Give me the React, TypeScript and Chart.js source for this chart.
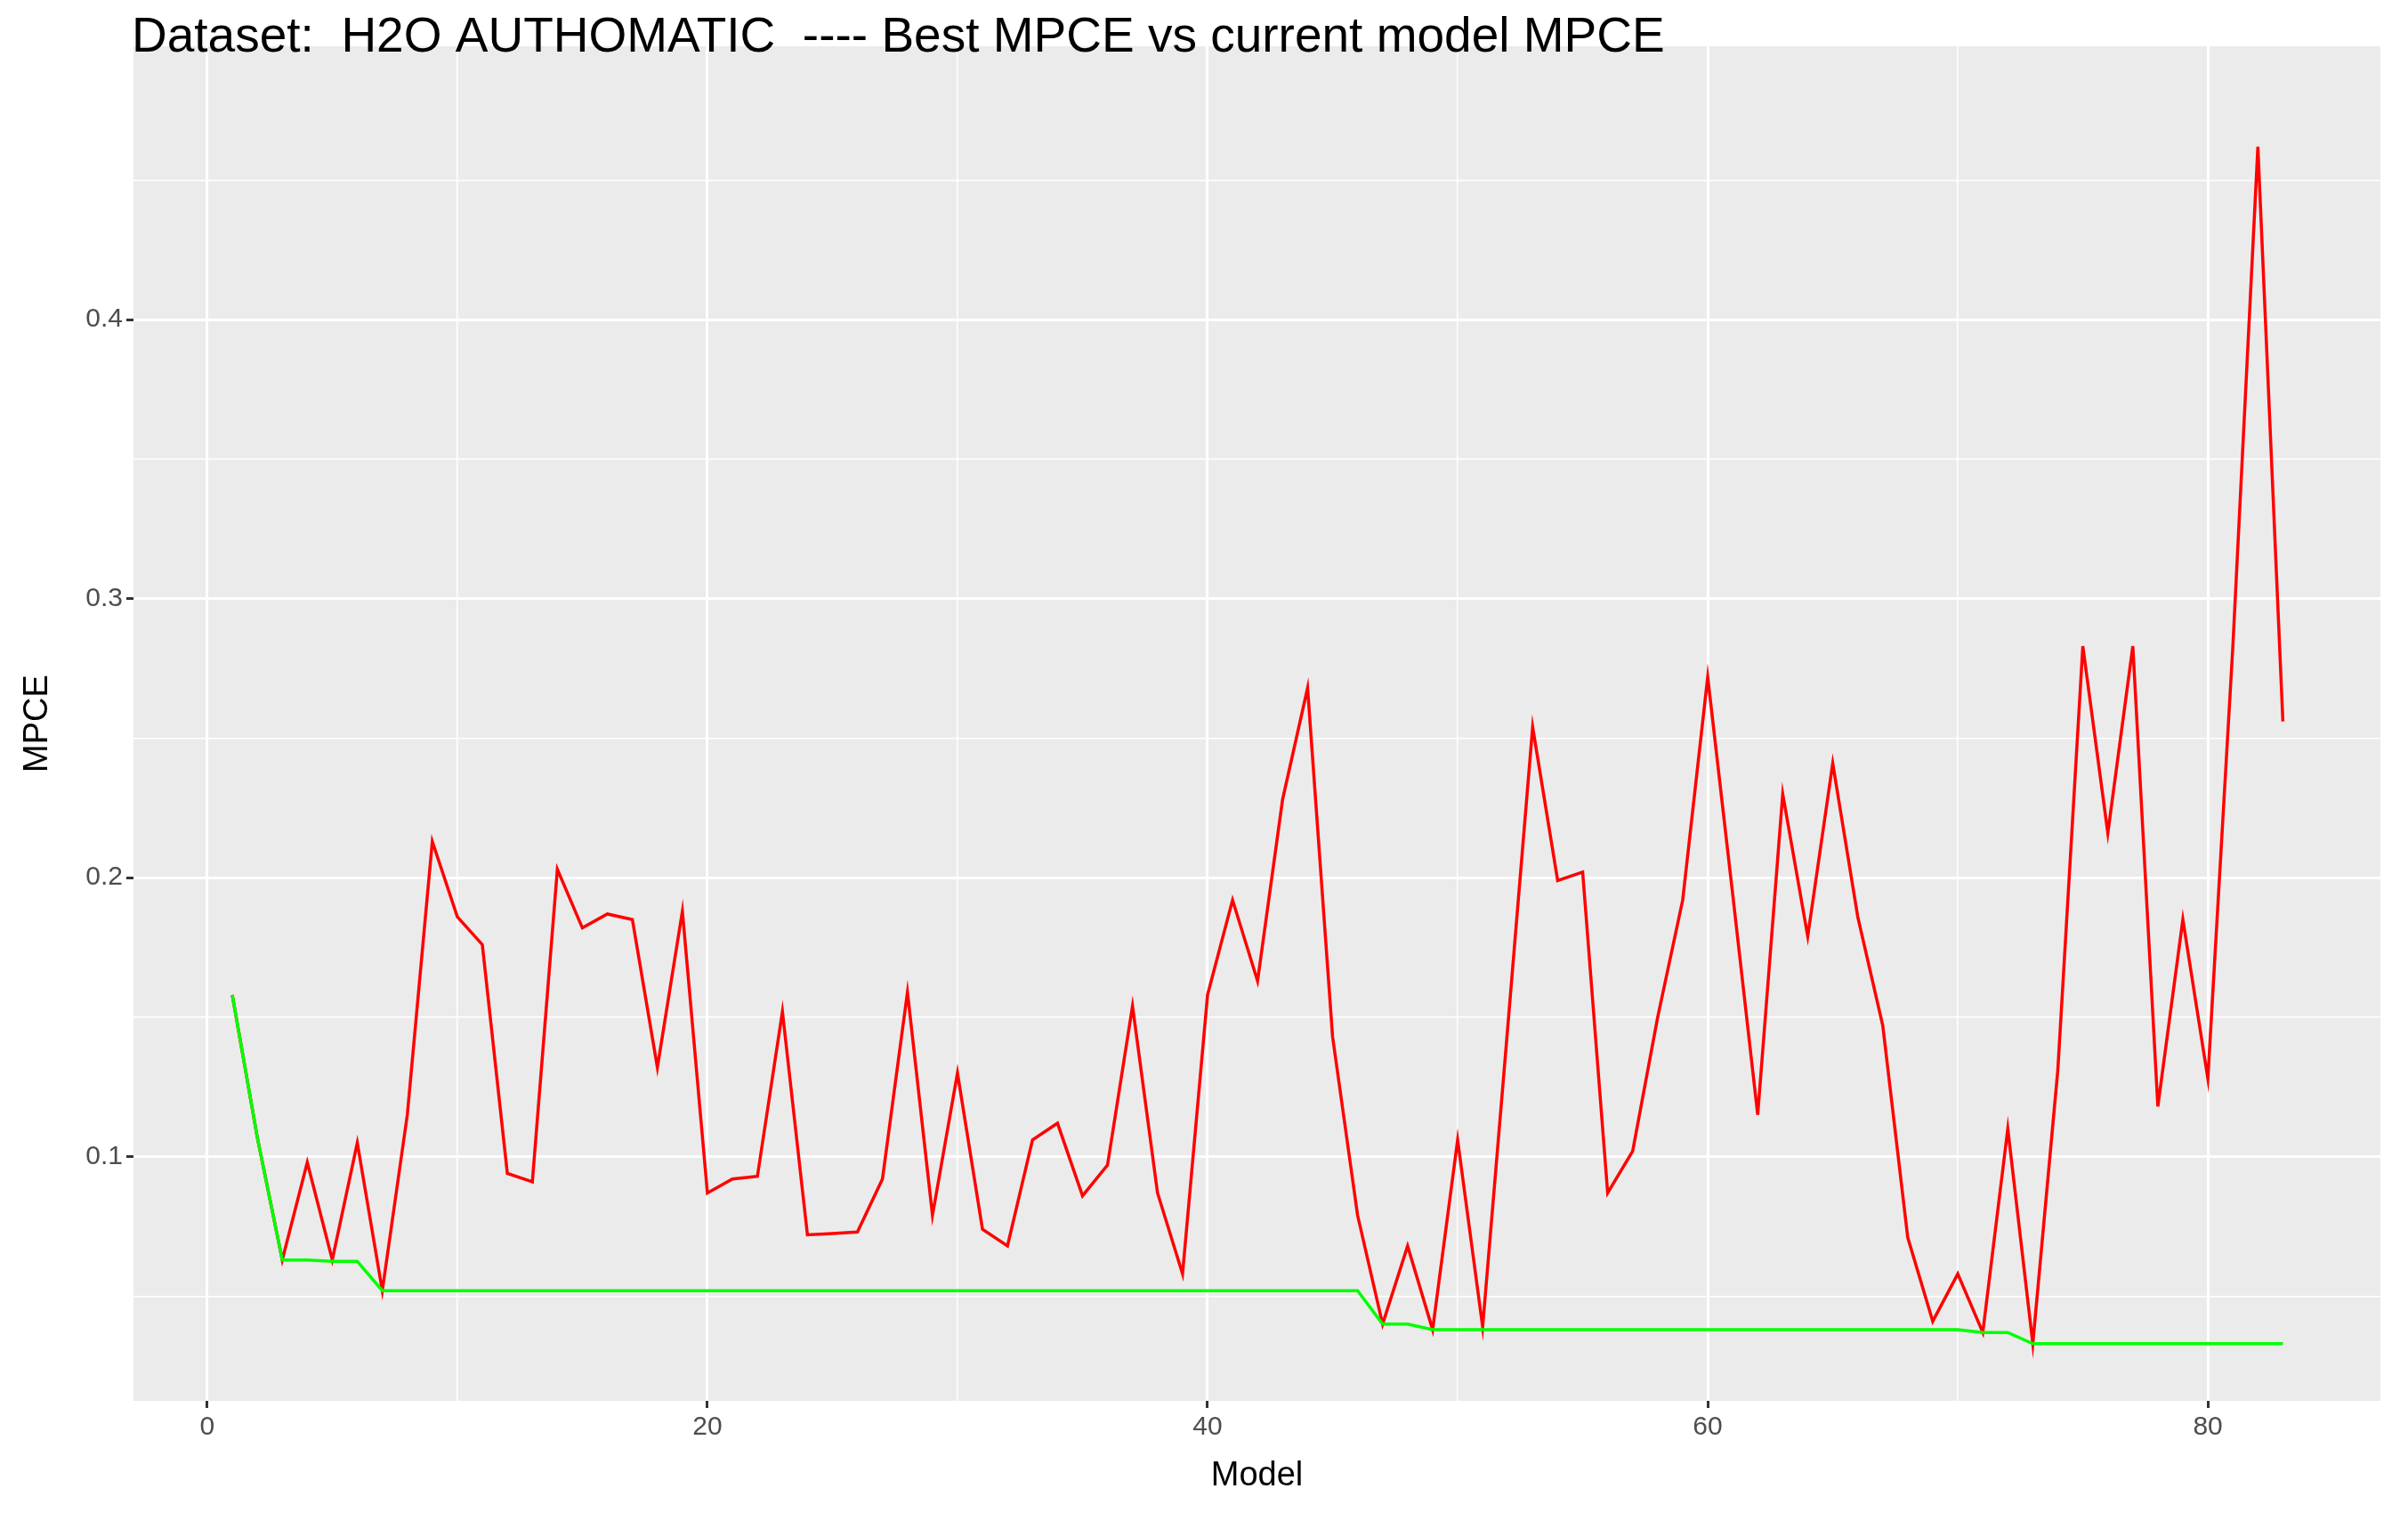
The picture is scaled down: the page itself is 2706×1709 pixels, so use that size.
import React, { useEffect, useRef } from "react";
import { Chart, registerables } from "chart.js";
Chart.register(...registerables);

const models = Array.from({ length: 83 }, (_, i) => i + 1);
const currentMPCE = [
  0.158, 0.107, 0.063, 0.098, 0.063, 0.105, 0.052, 0.115, 0.213, 0.186,
  0.176, 0.094, 0.091, 0.203, 0.182, 0.187, 0.185, 0.132, 0.188, 0.087,
  0.092, 0.093, 0.152, 0.072, 0.0725, 0.073, 0.092, 0.159, 0.079, 0.130,
  0.074, 0.068, 0.106, 0.112, 0.086, 0.097, 0.154, 0.087, 0.058, 0.158,
  0.192, 0.163, 0.228, 0.268, 0.143, 0.079, 0.040, 0.068, 0.038, 0.106,
  0.039, 0.146, 0.254, 0.199, 0.202, 0.087, 0.102, 0.150, 0.192, 0.272,
  0.194, 0.115, 0.230, 0.179, 0.241, 0.186, 0.147, 0.071, 0.041, 0.058,
  0.037, 0.110, 0.033, 0.131, 0.283, 0.216, 0.283, 0.118, 0.185, 0.128,
  0.283, 0.462, 0.256,
];
const bestMPCE = [
  0.158, 0.107, 0.063, 0.063, 0.0625, 0.0625, 0.052, 0.052, 0.052, 0.052,
  0.052, 0.052, 0.052, 0.052, 0.052, 0.052, 0.052, 0.052, 0.052, 0.052,
  0.052, 0.052, 0.052, 0.052, 0.052, 0.052, 0.052, 0.052, 0.052, 0.052,
  0.052, 0.052, 0.052, 0.052, 0.052, 0.052, 0.052, 0.052, 0.052, 0.052,
  0.052, 0.052, 0.052, 0.052, 0.052, 0.052, 0.040, 0.040, 0.038, 0.038,
  0.038, 0.038, 0.038, 0.038, 0.038, 0.038, 0.038, 0.038, 0.038, 0.038,
  0.038, 0.038, 0.038, 0.038, 0.038, 0.038, 0.038, 0.038, 0.038, 0.038,
  0.037, 0.037, 0.033, 0.033, 0.033, 0.033, 0.033, 0.033, 0.033, 0.033,
  0.033, 0.033, 0.033,
];
const titleText = "Dataset:  H2O AUTHOMATIC  ---- Best MPCE vs current model MPCE";

export default function App() {
  const ref = useRef<HTMLCanvasElement>(null);
  useEffect(() => {
    document.body.style.margin = "0";
    const font = "'Liberation Sans', Arial, sans-serif";
    const isMajorY = (v: number) => Math.abs(Math.round(v * 10) - v * 10) < 1e-6;
    const bg = {
      id: "bg",
      beforeDraw(c: any) {
        const { ctx, chartArea: a } = c;
        ctx.save();
        ctx.fillStyle = "#EBEBEB";
        ctx.fillRect(a.left, a.top, a.right - a.left, a.bottom - a.top);
        ctx.restore();
      },
      afterDraw(c: any) {
        const ctx = c.ctx;
        ctx.save();
        ctx.fillStyle = "#000";
        ctx.font = `55px ${font}`;
        ctx.textBaseline = "middle";
        ctx.fillText(titleText, 148, 43);
        ctx.restore();
      },
    };
    const chart = new Chart(ref.current!, {
      type: "line",
      data: {
        labels: models,
        datasets: [
          { data: models.map((m, i) => ({ x: m, y: currentMPCE[i] })), borderColor: "#FF0000", borderWidth: 3.5, pointRadius: 0, tension: 0, order: 1 },
          { data: models.map((m, i) => ({ x: m, y: bestMPCE[i] })), borderColor: "#00FF00", borderWidth: 3.5, pointRadius: 0, tension: 0, order: 0 },
        ],
      },
      options: {
        animation: false,
        responsive: false,
        layout: { padding: { top: 52, right: 31, left: 0, bottom: 0 } },
        plugins: { legend: { display: false }, tooltip: { enabled: false } },
        scales: {
          x: {
            type: "linear",
            min: -2.95,
            max: 86.9,
            afterBuildTicks: (s: any) => {
              s.ticks = [0, 10, 20, 30, 40, 50, 60, 70, 80].map((v) => ({ value: v }));
            },
            afterFit: (s: any) => { s.height = 1709 - 1574; },
            border: { display: false },
            grid: {
              color: "#FFFFFF",
              lineWidth: (c: any) => (c.tick && c.tick.value % 20 === 0 ? 3 : 1.5),
              tickLength: 8,
              tickColor: (c: any) => (c.tick && c.tick.value % 20 === 0 ? "#333333" : "rgba(0,0,0,0)"),
            },
            ticks: {
              autoSkip: false,
              maxRotation: 0,
              color: "#4D4D4D",
              font: { size: 30, family: font },
              padding: 4,
              callback: (v: any) => (v % 20 === 0 ? String(v) : ""),
            },
            title: { display: true, text: "Model", color: "#000", font: { size: 38, family: font }, padding: { top: 0, bottom: 28 } },
          },
          y: {
            min: 0.0125,
            max: 0.498,
            afterBuildTicks: (s: any) => {
              s.ticks = [0.05, 0.1, 0.15, 0.2, 0.25, 0.3, 0.35, 0.4, 0.45].map((v) => ({ value: v }));
            },
            afterFit: (s: any) => { s.width = 150; },
            border: { display: false },
            grid: {
              color: "#FFFFFF",
              lineWidth: (c: any) => (c.tick && isMajorY(c.tick.value) ? 3 : 1.5),
              tickLength: 8,
              tickColor: (c: any) => (c.tick && isMajorY(c.tick.value) ? "#333333" : "rgba(0,0,0,0)"),
            },
            ticks: {
              autoSkip: false,
              color: "#4D4D4D",
              font: { size: 30, family: font },
              padding: 4,
              callback: (v: any) => (isMajorY(v) ? Number(v).toFixed(1) : ""),
            },
            title: { display: true, text: "MPCE", color: "#000", font: { size: 38, family: font }, padding: { top: 20, bottom: 0 } },
          },
        },
      },
      plugins: [bg],
    } as any);
    return () => chart.destroy();
  }, []);
  return <canvas ref={ref} width={2706} height={1709} style={{ display: "block", width: 2706, height: 1709 }} />;
}
